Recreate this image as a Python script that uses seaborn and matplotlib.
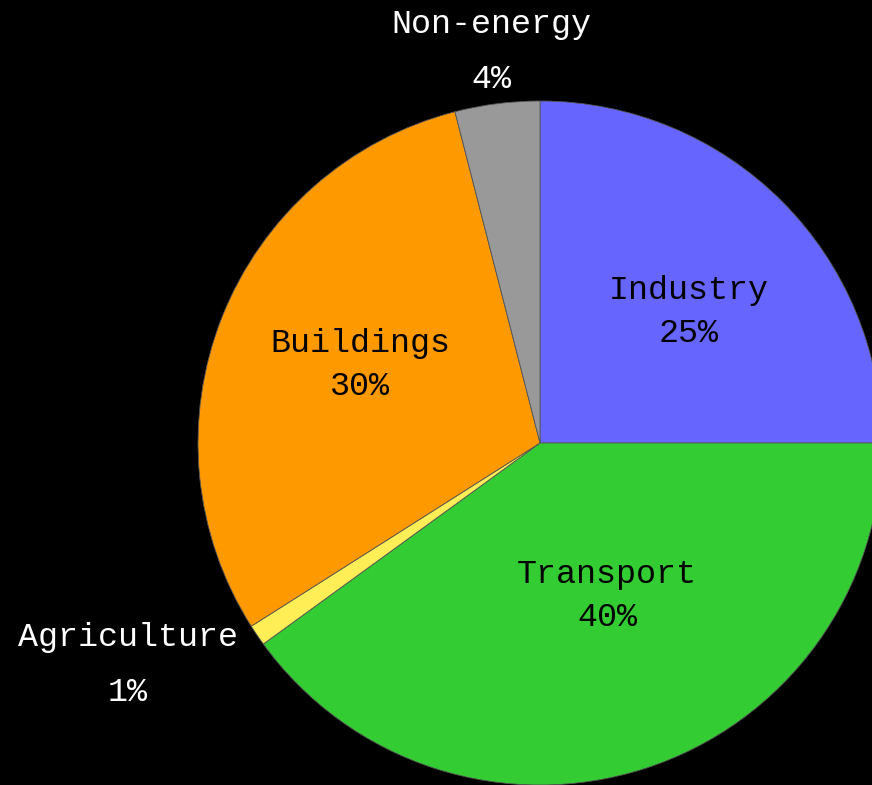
import numpy as np
import matplotlib
matplotlib.use('Agg')
import matplotlib.pyplot as plt
import seaborn as sns

sns.set_style('white')
plt.rcParams['font.family'] = ['Liberation Mono', 'DejaVu Sans Mono']

# data
sectors = ['Industry', 'Transport', 'Agriculture', 'Buildings', 'Non-energy']
shares = [25, 40, 1, 30, 4]
colors = ['#6666FF', '#33CC33', '#FFEE55', '#FF9900', '#999999']

# label centres in pie-radius units, text colour, line spacing
label_xy = [(0.436, 0.383), (0.196, -0.447), (-1.205, -0.649),
            (-0.526, 0.228), (-0.143, 1.143)]
label_color = ['black', 'black', 'white', 'black', 'white']
label_ls = [1.5, 1.5, 2.0, 1.5, 2.0]

fig = plt.figure(figsize=(8.72, 7.85), dpi=100, facecolor='black')
ax = fig.add_axes([0, 0, 1, 1])
ax.set_facecolor('black')

wedges, _ = ax.pie(shares, colors=colors, startangle=90, counterclock=False,
                   wedgeprops={'linewidth': 0.6, 'edgecolor': '#555555'})

for (x, y), name, s, c, ls in zip(label_xy, sectors, shares, label_color, label_ls):
    ax.text(x, y, '{}\n{}%'.format(name, s), ha='center', va='center',
            fontsize=24, color=c, linespacing=ls)

# pie centre at (540, 443) px, radius 342 px
ax.set_xlim(-540 / 342, 332 / 342)
ax.set_ylim(-342 / 342, 443 / 342)
ax.set_aspect('auto')
ax.axis('off')

fig.savefig('out.png', dpi=100, facecolor='black')
